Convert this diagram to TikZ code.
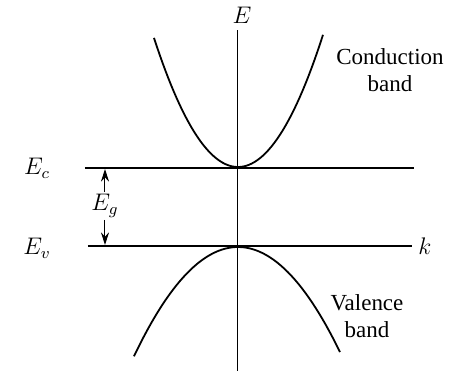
\documentclass[tikz,border=0pt]{standalone}
\usepackage{fontspec}
\setmainfont{Liberation Serif}
\usetikzlibrary{arrows.meta,positioning}
\tikzset{
  >={Stealth[length=2.2mm,width=1.4mm]},
  axis/.style={line width=0.5pt},
  level/.style={line width=0.7pt},
  band/.style={line width=0.9pt},
  tag/.style={font=\fontsize{11.5}{13.5}\selectfont,align=center,inner sep=1pt},
  gap/.style={->,line width=0.5pt},
}
\begin{document}
\begin{tikzpicture}[x=0.5pt,y=-0.5pt]
  \useasboundingbox (0,0) rectangle (462,371);
  % axis
  \coordinate (axtop) at (238,30);
  \coordinate (axbot) at (238,371);
  \draw[axis] (axtop) -- (axbot);
  \node[tag] (E) at (242,15) {$E$};
  % levels
  \coordinate (ecw) at (85,168);
  \coordinate (ece) at (414,168);
  \coordinate (evw) at (88,246);
  \coordinate (eve) at (412,246);
  \draw[level] (ecw) -- (ece);
  \draw[level] (evw) -- (eve);
  \node[tag,right=2pt of eve] (k) {$k$};
  \node[tag] (Ec) at (37,168) {$E_c$};
  \node[tag] (Ev) at (37,248) {$E_v$};
  % gap
  \node[tag] (Eg) at (105,206) {$E_g$};
  \coordinate (egtop) at (105,169);
  \coordinate (egbot) at (105,245);
  \draw[gap] (Eg.north) -- (egtop);
  \draw[gap] (Eg.south) -- (egbot);
  % bands
  \draw[band] plot[domain=-84:85,samples=60] ({238+\x},{167-0.0183*\x*\x});
  \draw[band] plot[domain=-104:102,samples=60] ({238+\x},{247+0.0101*\x*\x});
  \node[tag] (cb) at (390,70) {Conduction\\band};
  \node[tag] (vb) at (367,316) {Valence\\band};
\end{tikzpicture}
\end{document}
